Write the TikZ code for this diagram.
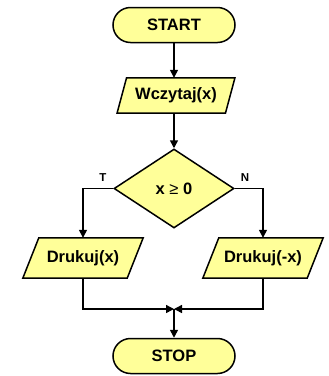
\documentclass[tikz,border=0pt]{standalone}
\usepackage{fontspec}
\setmainfont{Liberation Sans}
\usetikzlibrary{shapes.geometric,arrows.meta,backgrounds}
\definecolor{boxfill}{RGB}{255,255,153}
\tikzset{
  txt/.style={inner sep=0pt, font=\fontsize{16.5}{19}\selectfont\bfseries},
  base/.style={txt, draw=black, fill=boxfill, line width=1.5pt},
  term/.style={base, rectangle, rounded corners=17.5pt, minimum width=122pt, minimum height=35pt},
  iotext/.style={txt, rectangle},
  iobox/.style={draw=black, fill=boxfill, line width=1.5pt, line join=miter},
  cond/.style={base, diamond, minimum width=120pt, minimum height=79pt},
  lbl/.style={font=\fontsize{11.5}{13}\selectfont\bfseries, inner sep=0pt},
  conn/.style={line width=1.5pt, -{Triangle[length=8pt,width=8pt]}}
}
\begin{document}
\begin{tikzpicture}[x=1pt,y=-1pt]
\useasboundingbox (0,0) rectangle (329,376);
\node[term] (start) at (174,25) {START};
\node[iotext, minimum width=108pt, minimum height=35pt] (read) at (176,95.5) {Wczytaj(x)};
\node[cond] (dec) at (174,188.5) {x {\mdseries ≥} 0};
\node[iotext, minimum width=104pt, minimum height=40pt] (p1) at (83,258) {Drukuj(x)};
\node[iotext, minimum width=104pt, minimum height=40pt] (p2) at (263,258) {Drukuj(-x)};
\node[term] (stop) at (174,356) {STOP};
\node[lbl] (t) at (103,178) {T};
\node[lbl] (n) at (245,178) {N};
\coordinate (m) at (174,309);
\begin{scope}[on background layer]
\draw[iobox] ([xshift=-4.75pt]read.south west) -- ([xshift=-4.75pt]read.south east)
  -- ([xshift=4.75pt]read.north east) -- ([xshift=4.75pt]read.north west) -- cycle;
\draw[iobox] ([xshift=-8pt]p1.south west) -- ([xshift=-8pt]p1.south east)
  -- ([xshift=8pt]p1.north east) -- ([xshift=8pt]p1.north west) -- cycle;
\draw[iobox] ([xshift=-8pt]p2.south west) -- ([xshift=-8pt]p2.south east)
  -- ([xshift=8pt]p2.north east) -- ([xshift=8pt]p2.north west) -- cycle;
\end{scope}
\draw[conn] (start.south) -- (start.south |- read.north);
\draw[conn] (start.south |- read.south) -- (dec.north);
\draw[conn] (dec.west) -| (p1.north);
\draw[conn] (dec.east) -| (p2.north);
\draw[conn] (p1.south) |- (m);
\draw[conn] (p2.south) |- (m);
\draw[conn] (m) -- (stop.north);
\end{tikzpicture}
\end{document}
